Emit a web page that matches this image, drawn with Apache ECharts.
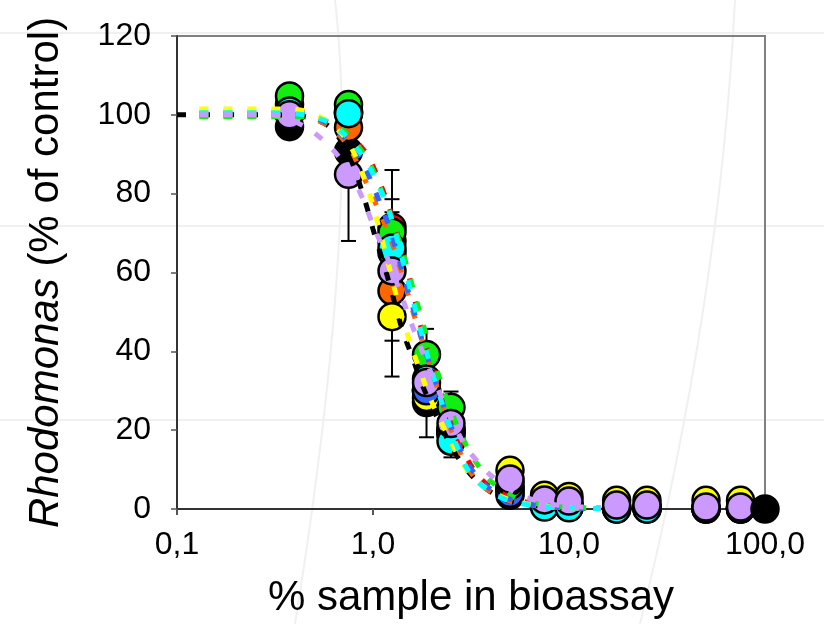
<!DOCTYPE html>
<html>
<head>
<meta charset="utf-8">
<script src="https://cdn.jsdelivr.net/npm/echarts@6/dist/echarts.min.js"></script>
<style>html,body{margin:0;padding:0;background:#fff;}#c{width:824px;height:624px;}</style>
</head>
<body>
<div id="c"></div>
<script>
// ---- data ----
const xTickLabels = ['0,1', '1,0', '10,0', '100,0'];
const conc = [0.375, 0.75, 1.25, 1.875, 2.5, 5, 7.5, 10, 17.5, 25, 50, 75];
const blackVals  = [97, 90.7, 68, 27, 20, 5, 1, 0.5, 0, 0, 0, 0];
const redVals    = [102.6, 101, 71.5, 30, 20, 5, 1, 0.5, 0.2, 0.2, 0, 0];
const orangeVals = [100, 96.8, 55.3, 30, 19, 3.5, 1, 0.5, 0.2, 0.2, 0, 0];
const yellowVals = [101, 100.5, 48.8, 28.3, 20, 9.8, 3.5, 3.2, 2.2, 2.2, 2.2, 2.2];
const greenVals  = [104.8, 102.6, 70.2, 39.2, 25.8, 6, 1.5, 1, 0.5, 0.5, 0.3, 0.3];
const blueVals   = [100, 100.5, 65, 30, 19, 4, 1, 0.8, 0.3, 0.3, 0.2, 0.2];
const cyanVals   = [101, 100.3, 66.2, 33, 17.2, 7, 0.5, 0.3, 0, 0, -0.3, -0.3];
const purpleVals = [100, 84.9, 60.4, 32.1, 21.7, 7.6, 2.3, 2, 1, 1, 0.5, 0.5];
const blackEndX = [100];
const blackEndVals = [0];

const errX    = [0.75, 1.25, 1.25, 1.25, 1.875, 2.5, 5];
const errLow  = [68, 33.6, 42.7, 53.6, 18.2, 13.1, 4.3];
const errHigh = [101.3, 86, 78.6, 75.3, 45.7, 29.8, 10.9];

const fitX      = [0.13, 0.2, 0.3, 0.45, 0.6, 0.75, 0.9, 1.0, 1.2, 1.4, 1.6, 1.8, 2.0, 2.5, 3.0, 3.5, 4.0, 5.0, 6.0, 8.0, 10.0, 14.5];
const fitBlackX = [0.1, 0.13, 0.2, 0.3, 0.45, 0.6, 0.75, 0.9, 1.0, 1.2, 1.4, 1.6, 1.8, 2.0, 2.5, 3.0, 3.5, 4.0, 5.0, 6.0, 8.0, 10.0, 14.5];
const fitBlack  = [100, 100, 100, 100, 99.5, 97, 90, 79, 71, 58, 46, 38, 31, 26, 16, 10, 6.5, 4.3, 2, 1.2, 0.5, 0.3, 0.1];
const fitRed    = [100, 100, 100, 99.5, 98, 95, 91, 87, 77, 66, 55, 44, 37, 22, 13, 8, 5.5, 3, 1.8, 0.7, 0.4, 0.2];
const fitOrange = [100, 100, 100, 99.5, 97, 92, 84, 79, 70, 60, 50, 42, 35, 20, 11, 6.5, 4.3, 2, 1.2, 0.5, 0.3, 0.1];
const fitYellow = [101.5, 101.5, 101.5, 101, 98, 93, 84, 77, 62, 49, 40, 33, 27, 17, 10, 6.5, 4.5, 2.3, 1.4, 0.6, 0.3, 0.1];
const fitGreen  = [99.5, 99.5, 99.5, 99.5, 98, 95, 90, 86, 76, 66, 56, 47, 39, 25, 16, 10.5, 7, 3.5, 2, 0.8, 0.4, 0.2];
const fitCyan   = [100.5, 100.5, 100.5, 100, 98, 94, 89, 85, 76, 64, 53, 43, 35, 20, 10.5, 6.5, 4.3, 2, 1.2, 0.5, 0.3, 0.1];
const fitBlue   = [100.5, 100.5, 100.5, 100, 97.5, 93, 87, 82, 72, 61, 51, 42, 35, 21, 12, 7.5, 5, 2.5, 1.4, 0.6, 0.3, 0.1];
const fitPurple = [100, 100, 100, 97, 92, 86, 78, 72, 63, 54, 46, 39.5, 34, 23, 15.5, 11.5, 8.5, 5, 3, 1.3, 0.7, 0.3];

// ---- styles ----
const COL = {black:'#000000', red:'#ff0000', orange:'#ff6600', yellow:'#ffff00', green:'#11ee11', cyan:'#00ffff', blue:'#3366ff', purple:'#cc99ff'};
const FONT = '"Liberation Sans", Arial, sans-serif';

function zip(xs, ys){ return xs.map((x,i)=>[x, ys[i]]); }
function scatter(name, xs, ys, color){
  return {type:'scatter', name, data: zip(xs, ys), symbol:'circle', symbolSize:27, z:2,
    itemStyle:{color, borderColor:'#000', borderWidth:2.5, opacity:1}, emphasis:{disabled:true}};
}
function fitLine(name, xs, ys, color){
  return {type:'line', name, data: zip(xs, ys), showSymbol:false, smooth:0.3, z:4, clip:false,
    lineStyle:{color, width:5, type:[9,15], cap:'butt'}, emphasis:{disabled:true}};
}

const errData = errX.map((x,i)=>[x, errLow[i], errHigh[i]]);

const option = {
  animation:false,
  backgroundColor:'#fff',
  textStyle:{fontFamily:FONT},
  graphic:[
    {type:'line', z:-10, silent:true, shape:{x1:0,y1:33,x2:824,y2:33}, style:{stroke:'#f0f0f0', lineWidth:2}},
    {type:'line', z:-10, silent:true, shape:{x1:0,y1:226,x2:824,y2:226}, style:{stroke:'#f0f0f0', lineWidth:2}},
    {type:'line', z:-10, silent:true, shape:{x1:0,y1:420,x2:824,y2:420}, style:{stroke:'#f0f0f0', lineWidth:2}},
    {type:'bezierCurve', z:-10, silent:true, shape:{x1:335,y1:0,cpx1:360,cpy1:220,x2:295,y2:624}, style:{stroke:'#f0f0f0', lineWidth:2, fill:null}},
    {type:'bezierCurve', z:-10, silent:true, shape:{x1:735,y1:0,cpx1:720,cpy1:300,x2:640,y2:624}, style:{stroke:'#f0f0f0', lineWidth:2, fill:null}}
  ],
  grid:{left:177, right:59, top:36, bottom:113, show:true, borderColor:'#808080', borderWidth:2, backgroundColor:'transparent'},
  xAxis:{
    type:'log', logBase:10, min:0.1, max:100,
    name:'% sample in bioassay', nameLocation:'middle', nameGap:68,
    nameTextStyle:{fontSize:42, color:'#000', fontFamily:FONT},
    axisLine:{lineStyle:{color:'#333', width:2}},
    axisTick:{show:true, length:6, inside:false, lineStyle:{color:'#555', width:2}},
    minorTick:{show:false}, splitLine:{show:false}, minorSplitLine:{show:false},
    axisLabel:{fontSize:32, color:'#000', margin:20, fontFamily:FONT,
      formatter:function(v){ const i = Math.round(Math.log10(v)) + 1; return xTickLabels[i] !== undefined ? xTickLabels[i] : ''; }}
  },
  yAxis:{
    type:'value', min:0, max:120, interval:20,
    name:'{i|Rhodomonas} (% of control)', nameLocation:'middle', nameGap:110,
    nameTextStyle:{fontSize:42, color:'#000', fontFamily:FONT, rich:{i:{fontStyle:'italic', fontSize:42, fontFamily:FONT, color:'#000'}}},
    axisLine:{show:true, lineStyle:{color:'#333', width:2}},
    axisTick:{show:true, length:6, inside:false, lineStyle:{color:'#555', width:1.5}},
    splitLine:{show:false},
    axisLabel:{fontSize:32, color:'#000', margin:26, fontFamily:FONT}
  },
  series:[
    scatter('black', conc, blackVals, COL.black),
    scatter('red', conc, redVals, COL.red),
    scatter('orange', conc, orangeVals, COL.orange),
    scatter('yellow', conc, yellowVals, COL.yellow),
    scatter('blue', conc, blueVals, COL.blue),
    scatter('green', conc, greenVals, COL.green),
    scatter('cyan', conc, cyanVals, COL.cyan),
    {type:'custom', name:'err', z:2, data:errData, encode:{x:0, y:[1,2]},
      renderItem:function(params, api){
        const x = api.value(0);
        const pLo = api.coord([x, api.value(1)]);
        const pHi = api.coord([x, api.value(2)]);
        const w = 7.5;
        const st = {stroke:'#000', lineWidth:2};
        return {type:'group', children:[
          {type:'line', shape:{x1:pLo[0], y1:pLo[1], x2:pHi[0], y2:pHi[1]}, style:st},
          {type:'line', shape:{x1:pLo[0]-w, y1:pLo[1], x2:pLo[0]+w, y2:pLo[1]}, style:st},
          {type:'line', shape:{x1:pHi[0]-w, y1:pHi[1], x2:pHi[0]+w, y2:pHi[1]}, style:st}
        ]};
      }},
    scatter('purple', conc, purpleVals, COL.purple),
    scatter('black100', blackEndX, blackEndVals, COL.black),
    fitLine('fitBlack', fitBlackX, fitBlack, COL.black),
    fitLine('fitRed', fitX, fitRed, COL.red),
    fitLine('fitOrange', fitX, fitOrange, COL.orange),
    fitLine('fitGreen', fitX, fitGreen, COL.green),
    fitLine('fitBlue', fitX, fitBlue, COL.blue),
    fitLine('fitYellow', fitX, fitYellow, COL.yellow),
    fitLine('fitCyan', fitX, fitCyan, COL.cyan),
    fitLine('fitPurple', fitX, fitPurple, COL.purple)
  ]
};
const chart = echarts.init(document.getElementById('c'), null, {renderer:'canvas'});
chart.setOption(option);
</script>
</body>
</html>
